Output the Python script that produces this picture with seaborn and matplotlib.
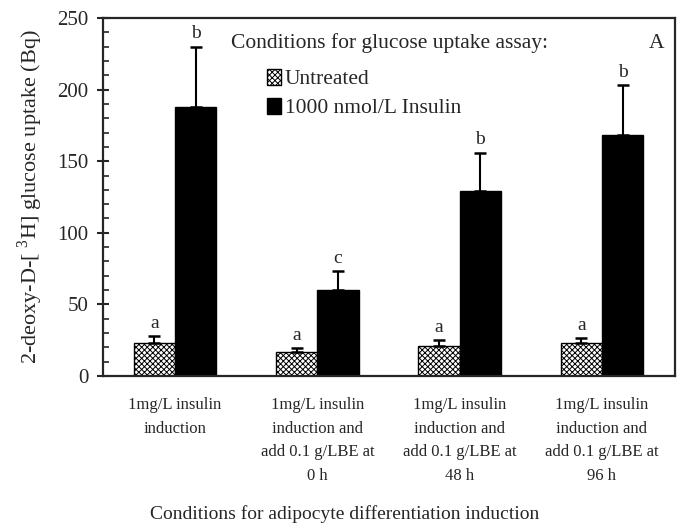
import pandas as pd
import numpy as np
import matplotlib
matplotlib.use('Agg')
import matplotlib.pyplot as plt
import seaborn as sns
from matplotlib.patches import Patch
from matplotlib.ticker import MultipleLocator

# values (Bq)
conditions = ['1mg/L insulin\ninduction',
              '1mg/L insulin\ninduction and\nadd 0.1 g/LBE at\n0 h',
              '1mg/L insulin\ninduction and\nadd 0.1 g/LBE at\n48 h',
              '1mg/L insulin\ninduction and\nadd 0.1 g/LBE at\n96 h']
treatments = ['Untreated', '1000 nmol/L Insulin']
untreated = [23, 17, 21, 23]
untreated_err = [5, 2.5, 4, 3.5]
insulin = [188, 60, 129, 168]
insulin_err = [42, 13, 27, 35]
letters_untreated = ['a', 'a', 'a', 'a']
letters_insulin = ['b', 'c', 'b', 'b']

sns.set_style('ticks')
plt.rcParams['font.family'] = ['Liberation Serif', 'DejaVu Serif']
plt.rcParams['hatch.linewidth'] = 0.7
plt.rcParams['mathtext.fontset'] = 'custom'
plt.rcParams['mathtext.rm'] = 'Liberation Serif'

df = pd.DataFrame({
    'condition': conditions * 2,
    'treatment': [treatments[0]] * 4 + [treatments[1]] * 4,
    'uptake': untreated + insulin,
})

fig = plt.figure(figsize=(6.87, 5.27), dpi=100)
ax = fig.add_axes([0.150, 0.2865, 0.8325, 0.6793])

sns.barplot(data=df, x='condition', y='uptake', hue='treatment',
            palette=['white', 'black'], edgecolor='black', linewidth=1.0,
            width=0.58, errorbar=None, legend=False, ax=ax)

bars = ax.patches
errs = untreated_err + insulin_err
letters = letters_untreated + letters_insulin
for i, bar in enumerate(bars[:8]):
    if i < 4:
        bar.set_hatch('xxxxxx')
    xc = bar.get_x() + bar.get_width() / 2
    h = bar.get_height()
    ax.errorbar(xc, h, yerr=[[0], [errs[i]]], fmt='none', ecolor='black',
                elinewidth=1.5, capsize=4.5, capthick=1.8, zorder=1)
    ax.text(xc, h + errs[i] + 3, letters[i], ha='center', va='bottom', fontsize=14)

ax.set_xlim(-0.506, 3.513)
ax.set_ylim(0, 250)
ax.yaxis.set_major_locator(MultipleLocator(50))
ax.yaxis.set_minor_locator(MultipleLocator(10))
ax.tick_params(axis='y', which='major', direction='inout', length=9, width=1.5,
               labelsize=15, pad=6)
ax.tick_params(axis='y', which='minor', direction='in', length=4, width=1.2)
ax.tick_params(axis='x', length=0, labelsize=12, pad=15)
for lab in ax.get_xticklabels():
    lab.set_linespacing(1.65)
for s in ax.spines.values():
    s.set_linewidth(1.6)
    s.set_visible(True)

ax.set_ylabel('2-deoxy-D-[ $^{3}$H] glucose uptake (Bq)', fontsize=16, labelpad=9)
ax.set_xlabel('Conditions for adipocyte differentiation induction', fontsize=14)
ax.xaxis.set_label_coords(0.423, -0.362)

ax.text(0.223, 0.93, 'Conditions for glucose uptake assay:', transform=ax.transAxes,
        fontsize=15.5, va='center', ha='left')
ax.text(0.982, 0.93, 'A', transform=ax.transAxes, fontsize=15.5, va='center', ha='right')

handles = [Patch(facecolor='white', edgecolor='black', hatch='xxxxxx'),
           Patch(facecolor='black', edgecolor='black')]
ax.legend(handles, treatments, loc='upper left', bbox_to_anchor=(0.271, 0.882),
          frameon=False, fontsize=15.5, handlelength=0.65, handleheight=0.75,
          handletextpad=0.2, labelspacing=0.4, borderaxespad=0)

fig.savefig('out.png', dpi=100)
